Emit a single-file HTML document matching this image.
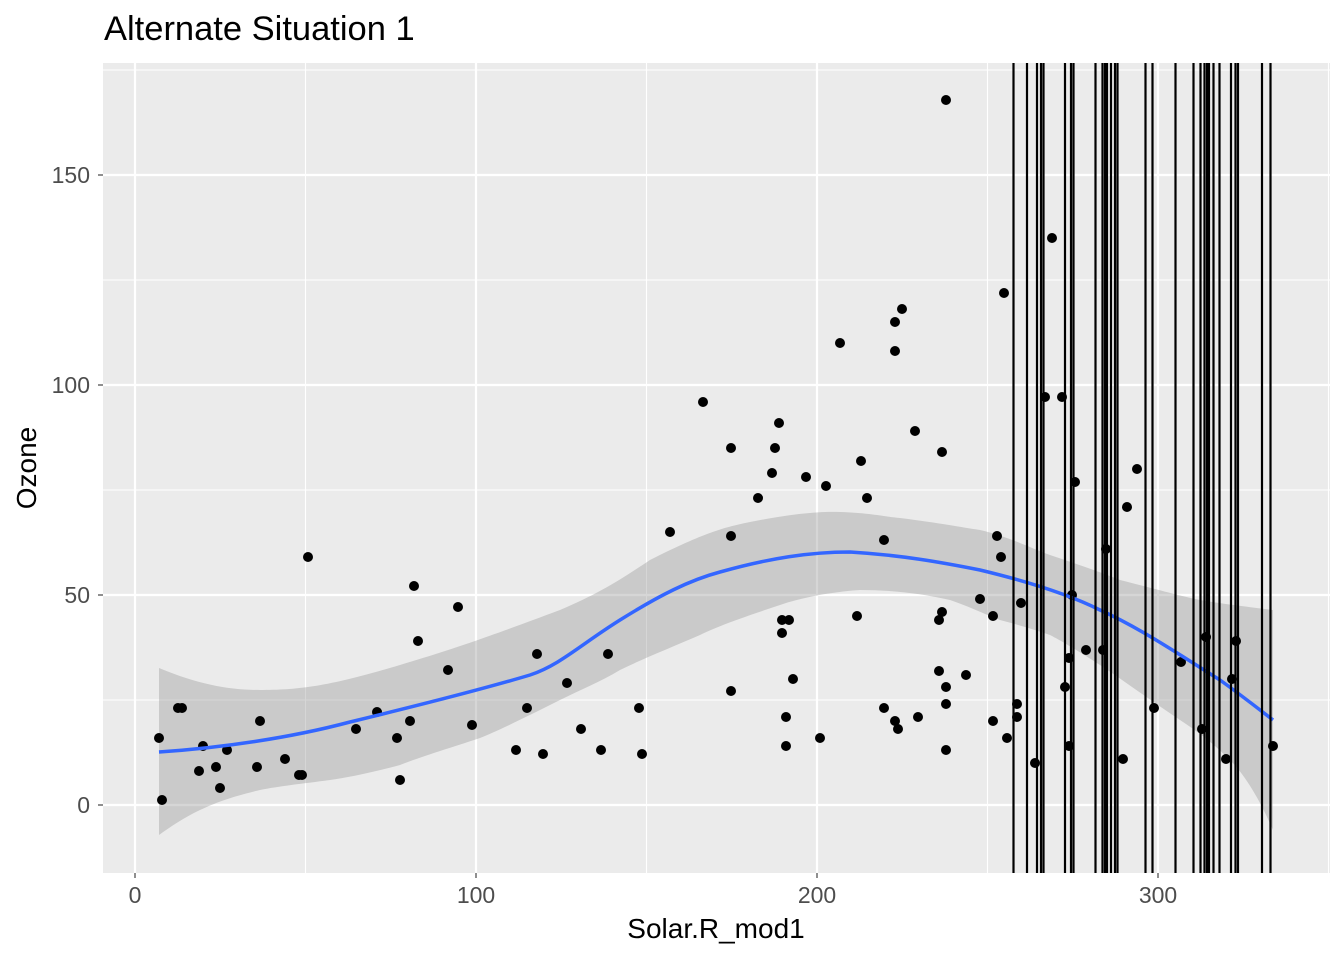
<!DOCTYPE html>
<html><head><meta charset="utf-8"><style>body{margin:0;background:#fff}svg{display:block}text{font-family:"Liberation Sans",sans-serif}</style></head><body>
<svg width="1344" height="960" xmlns="http://www.w3.org/2000/svg">
<rect x="103" y="63" width="1227" height="810" fill="#ebebeb"/>
<g stroke="#fff" stroke-width="1.1">
<line x1="103" x2="1330" y1="70" y2="70"/><line x1="103" x2="1330" y1="280" y2="280"/><line x1="103" x2="1330" y1="490" y2="490"/><line x1="103" x2="1330" y1="700" y2="700"/>
<line y1="63" y2="873" x1="305.5" x2="305.5"/><line y1="63" y2="873" x1="646.5" x2="646.5"/><line y1="63" y2="873" x1="987.5" x2="987.5"/><line y1="63" y2="873" x1="1328.5" x2="1328.5"/>
</g>
<g stroke="#fff" stroke-width="2.2">
<line x1="103" x2="1330" y1="175" y2="175"/><line x1="103" x2="1330" y1="385" y2="385"/><line x1="103" x2="1330" y1="595" y2="595"/><line x1="103" x2="1330" y1="805" y2="805"/>
<line y1="63" y2="873" x1="135" x2="135"/><line y1="63" y2="873" x1="476" x2="476"/><line y1="63" y2="873" x1="817" x2="817"/><line y1="63" y2="873" x1="1158" x2="1158"/>
</g>
<path d="M159,668 C200,685 230,690 260,690 C300,690 330,686 400,665 C450,650 480,640 560,610 C600,593 620,580 650,560 C700,535 720,528 750,522 C790,514 820,511 840,512 C870,513 880,516 900,518 C940,523 960,527 980,530 C1010,537 1030,548 1050,555 C1080,565 1100,572 1120,580 C1160,590 1180,596 1200,600 C1230,605 1250,607 1273,610 L1273,830 C1260,800 1245,775 1230,760 C1210,740 1195,730 1180,720 C1150,700 1120,678 1100,665 C1080,652 1060,640 1050,635 C1030,628 1015,624 1000,620 C980,612 965,605 950,600 C920,593 890,590 860,590 C830,592 800,598 780,605 C750,615 720,625 700,635 C670,648 640,660 620,670 C600,682 580,690 560,700 C530,715 500,730 480,738 C450,748 420,757 400,765 C370,773 350,777 330,780 C300,784 280,786 260,790 C230,797 215,803 200,810 C185,817 170,827 159,835 Z" fill="#999" fill-opacity="0.4"/>
<g fill="#000">
<circle cx="159" cy="738" r="5"/><circle cx="162" cy="800" r="5"/><circle cx="178" cy="708" r="5"/><circle cx="182" cy="708" r="5"/><circle cx="199" cy="771" r="5"/><circle cx="203" cy="746" r="5"/><circle cx="216" cy="767" r="5"/><circle cx="220" cy="788" r="5"/><circle cx="227" cy="750" r="5"/><circle cx="257" cy="767" r="5"/><circle cx="260" cy="721" r="5"/><circle cx="285" cy="759" r="5"/><circle cx="299" cy="775" r="5"/><circle cx="302" cy="775" r="5"/><circle cx="308" cy="557" r="5"/><circle cx="356" cy="729" r="5"/><circle cx="377" cy="712" r="5"/><circle cx="397" cy="738" r="5"/><circle cx="400" cy="780" r="5"/><circle cx="410" cy="721" r="5"/><circle cx="414" cy="586" r="5"/><circle cx="418" cy="641" r="5"/><circle cx="448" cy="670" r="5"/><circle cx="458" cy="607" r="5"/><circle cx="472" cy="725" r="5"/><circle cx="516" cy="750" r="5"/><circle cx="527" cy="708" r="5"/><circle cx="537" cy="654" r="5"/><circle cx="543" cy="754" r="5"/><circle cx="567" cy="683" r="5"/><circle cx="581" cy="729" r="5"/><circle cx="601" cy="750" r="5"/><circle cx="608" cy="654" r="5"/><circle cx="639" cy="708" r="5"/><circle cx="642" cy="754" r="5"/><circle cx="670" cy="532" r="5"/><circle cx="703" cy="402" r="5"/><circle cx="731" cy="536" r="5"/><circle cx="731" cy="448" r="5"/><circle cx="731" cy="691" r="5"/><circle cx="758" cy="498" r="5"/><circle cx="772" cy="473" r="5"/><circle cx="775" cy="448" r="5"/><circle cx="779" cy="423" r="5"/><circle cx="782" cy="620" r="5"/><circle cx="782" cy="633" r="5"/><circle cx="786" cy="717" r="5"/><circle cx="786" cy="746" r="5"/><circle cx="789" cy="620" r="5"/><circle cx="793" cy="679" r="5"/><circle cx="806" cy="477" r="5"/><circle cx="820" cy="738" r="5"/><circle cx="826" cy="486" r="5"/><circle cx="840" cy="343" r="5"/><circle cx="857" cy="616" r="5"/><circle cx="861" cy="461" r="5"/><circle cx="867" cy="498" r="5"/><circle cx="884" cy="540" r="5"/><circle cx="884" cy="708" r="5"/><circle cx="895" cy="322" r="5"/><circle cx="895" cy="351" r="5"/><circle cx="895" cy="721" r="5"/><circle cx="898" cy="729" r="5"/><circle cx="902" cy="309" r="5"/><circle cx="918" cy="717" r="5"/><circle cx="915" cy="431" r="5"/><circle cx="939" cy="620" r="5"/><circle cx="939" cy="671" r="5"/><circle cx="942" cy="612" r="5"/><circle cx="942" cy="452" r="5"/><circle cx="946" cy="687" r="5"/><circle cx="946" cy="704" r="5"/><circle cx="946" cy="750" r="5"/><circle cx="946" cy="100" r="5"/><circle cx="966" cy="675" r="5"/><circle cx="980" cy="599" r="5"/><circle cx="993" cy="721" r="5"/><circle cx="993" cy="616" r="5"/><circle cx="997" cy="536" r="5"/><circle cx="1001" cy="557" r="5"/><circle cx="1004" cy="293" r="5"/><circle cx="1007" cy="738" r="5"/><circle cx="1017" cy="704" r="5"/><circle cx="1017" cy="717" r="5"/><circle cx="1021" cy="603" r="5"/><circle cx="1035" cy="763" r="5"/><circle cx="1045" cy="397" r="5"/><circle cx="1052" cy="238" r="5"/><circle cx="1062" cy="397" r="5"/><circle cx="1065" cy="687" r="5"/><circle cx="1069" cy="658" r="5"/><circle cx="1069" cy="746" r="5"/><circle cx="1072" cy="595" r="5"/><circle cx="1075" cy="482" r="5"/><circle cx="1086" cy="650" r="5"/><circle cx="1103" cy="650" r="5"/><circle cx="1106" cy="549" r="5"/><circle cx="1123" cy="759" r="5"/><circle cx="1127" cy="507" r="5"/><circle cx="1137" cy="469" r="5"/><circle cx="1154" cy="708" r="5"/><circle cx="1181" cy="662" r="5"/><circle cx="1202" cy="729" r="5"/><circle cx="1206" cy="637" r="5"/><circle cx="1226" cy="759" r="5"/><circle cx="1232" cy="679" r="5"/><circle cx="1236" cy="641" r="5"/><circle cx="1273" cy="746" r="5"/>
</g>
<path d="M159,752 C220,748 290,738 350,722 C420,705 480,690 530,675 C560,665 580,645 620,620 C660,595 690,580 720,572 C770,558 810,552 850,552 C900,555 940,562 980,570 C1030,582 1070,595 1100,610 C1140,628 1180,655 1220,680 C1245,698 1260,710 1273,720" fill="none" stroke="#3366ff" stroke-width="3.5"/>
<g stroke="#000" stroke-width="2.2">
<line x1="1013.5" x2="1013.5" y1="63" y2="873"/><line x1="1027" x2="1027" y1="63" y2="873"/><line x1="1037" x2="1037" y1="63" y2="873"/><line x1="1041" x2="1041" y1="63" y2="873"/><line x1="1043.5" x2="1043.5" y1="63" y2="873"/><line x1="1065" x2="1065" y1="63" y2="873"/><line x1="1071" x2="1071" y1="63" y2="873"/><line x1="1073.5" x2="1073.5" y1="63" y2="873"/><line x1="1095.5" x2="1095.5" y1="63" y2="873"/><line x1="1102.5" x2="1102.5" y1="63" y2="873"/><line x1="1105" x2="1105" y1="63" y2="873"/><line x1="1107" x2="1107" y1="63" y2="873"/><line x1="1111" x2="1111" y1="63" y2="873"/><line x1="1115" x2="1115" y1="63" y2="873"/><line x1="1117.5" x2="1117.5" y1="63" y2="873"/><line x1="1145.5" x2="1145.5" y1="63" y2="873"/><line x1="1152.5" x2="1152.5" y1="63" y2="873"/><line x1="1175.5" x2="1175.5" y1="63" y2="873"/><line x1="1193.5" x2="1193.5" y1="63" y2="873"/><line x1="1200.5" x2="1200.5" y1="63" y2="873"/><line x1="1204.5" x2="1204.5" y1="63" y2="873"/><line x1="1207" x2="1207" y1="63" y2="873"/><line x1="1209" x2="1209" y1="63" y2="873"/><line x1="1213.5" x2="1213.5" y1="63" y2="873"/><line x1="1219.5" x2="1219.5" y1="63" y2="873"/><line x1="1231" x2="1231" y1="63" y2="873"/><line x1="1235.5" x2="1235.5" y1="63" y2="873"/><line x1="1238" x2="1238" y1="63" y2="873"/><line x1="1262" x2="1262" y1="63" y2="873"/><line x1="1270.5" x2="1270.5" y1="63" y2="873"/>
</g>
<g stroke="#333" stroke-width="1.1">
<line x1="98" x2="103" y1="175" y2="175"/><line x1="98" x2="103" y1="385" y2="385"/><line x1="98" x2="103" y1="595" y2="595"/><line x1="98" x2="103" y1="805" y2="805"/>
<line y1="873" y2="878" x1="135" x2="135"/><line y1="873" y2="878" x1="476" x2="476"/><line y1="873" y2="878" x1="817" x2="817"/><line y1="873" y2="878" x1="1158" x2="1158"/>
</g>
<g fill="#4d4d4d" font-size="23" text-anchor="end">
<text x="90" y="183">150</text><text x="90" y="393">100</text><text x="90" y="603">50</text><text x="90" y="813">0</text>
</g>
<g fill="#4d4d4d" font-size="23" text-anchor="middle">
<text x="135" y="903">0</text><text x="476" y="903">100</text><text x="817" y="903">200</text><text x="1158" y="903">300</text>
</g>
<text x="716" y="938" font-size="28" text-anchor="middle">Solar.R_mod1</text>
<text transform="translate(36,468) rotate(-90)" font-size="28" text-anchor="middle">Ozone</text>
<text x="104" y="40" font-size="34.5">Alternate Situation 1</text>
</svg>
</body></html>
